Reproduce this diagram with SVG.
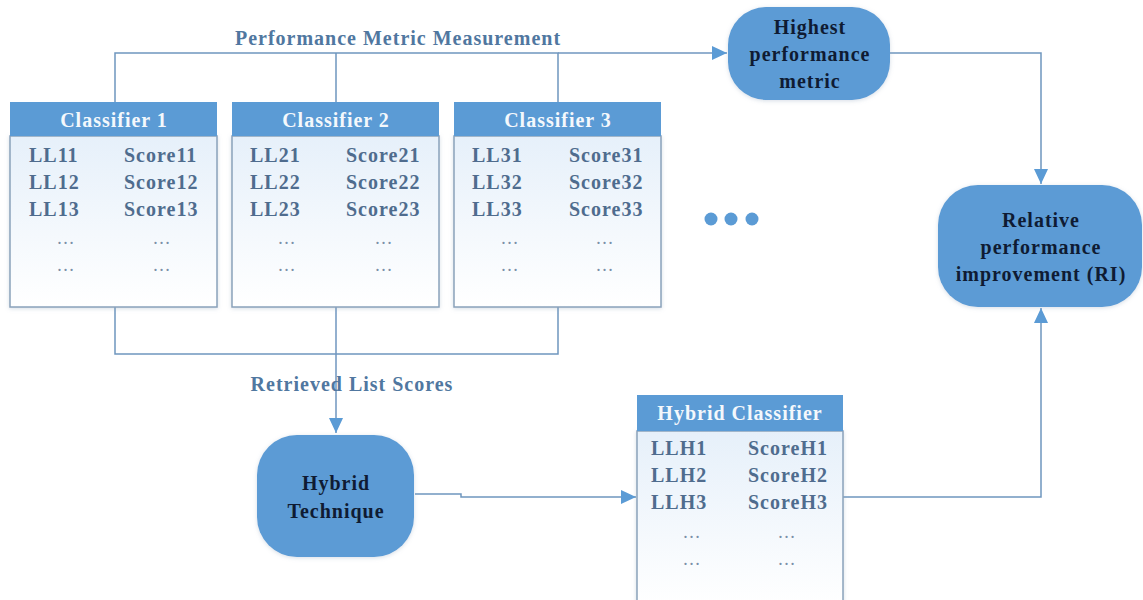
<svg xmlns="http://www.w3.org/2000/svg" width="1143" height="600" viewBox="0 0 1143 600">
<style>
text{font-family:"Liberation Serif","Times New Roman",serif;font-weight:bold;font-size:20px;letter-spacing:1px}
.hdr{fill:#5b9bd5}
.hdrt{fill:#f4f8fc;text-anchor:middle}
.body{fill:url(#bg);stroke:#8aa2bb;stroke-width:1.5}
.row{fill:#4f6c8e}
.dots{fill:#7b90a8;text-anchor:middle;font-weight:normal;font-size:18px}
.node{fill:#5b9bd5}
.nodet{fill:#0f1b33;text-anchor:middle}
.lbl{fill:#5077a0;text-anchor:middle}
.conn{fill:none;stroke:#6f96bf;stroke-width:1.5}
.sh{filter:url(#shadow)}
</style>
<defs>
<linearGradient id="bg" x1="0" y1="0" x2="0" y2="1">
<stop offset="0" stop-color="#e6f0fa"/>
<stop offset="1" stop-color="#ffffff"/>
</linearGradient>
<filter id="shadow" x="-10%" y="-10%" width="120%" height="120%">
<feDropShadow dx="0" dy="1" stdDeviation="2" flood-color="#8aa0b8" flood-opacity="0.35"/>
</filter>
<marker id="arr" markerUnits="userSpaceOnUse" markerWidth="16" markerHeight="14" refX="15" refY="7" orient="auto">
<path d="M0,0 L15,7 L0,14 Z" fill="#5b9bd5"/>
</marker>
</defs>
<rect width="1143" height="600" fill="#ffffff"/>

<g id="connectors">
<text class="lbl" x="398" y="45">Performance Metric Measurement</text>
<path class="conn" d="M115,102 V53 H558 V102 M336,53 V102"/>
<path class="conn" d="M558,53 H727" marker-end="url(#arr)"/>
<path class="conn" d="M890,53 H1041 V184" marker-end="url(#arr)"/>
<path class="conn" d="M115,307 V354 H558 V307"/>
<path class="conn" d="M336,307 V433" marker-end="url(#arr)"/>
<text class="lbl" x="352" y="391">Retrieved List Scores</text>
<path class="conn" d="M415,494 H461 V497 H636" marker-end="url(#arr)"/>
<path class="conn" d="M843,497 H1041 V308" marker-end="url(#arr)"/>
</g>

<g id="classifier1">
<rect class="body sh" x="10" y="136" width="207" height="171"/>
<rect class="hdr" x="10" y="102" width="207" height="34"/>
<text class="hdrt" x="114" y="127">Classifier 1</text>
<text class="row" x="29" y="162">LL11</text><text class="row" x="124" y="162">Score11</text>
<text class="row" x="29" y="189">LL12</text><text class="row" x="124" y="189">Score12</text>
<text class="row" x="29" y="216">LL13</text><text class="row" x="124" y="216">Score13</text>
<text class="dots" x="66" y="244">…</text><text class="dots" x="162" y="244">…</text>
<text class="dots" x="66" y="271">…</text><text class="dots" x="162" y="271">…</text>
</g>

<g id="classifier2">
<rect class="body sh" x="232" y="136" width="207" height="171"/>
<rect class="hdr" x="232" y="102" width="207" height="34"/>
<text class="hdrt" x="336" y="127">Classifier 2</text>
<text class="row" x="250" y="162">LL21</text><text class="row" x="346" y="162">Score21</text>
<text class="row" x="250" y="189">LL22</text><text class="row" x="346" y="189">Score22</text>
<text class="row" x="250" y="216">LL23</text><text class="row" x="346" y="216">Score23</text>
<text class="dots" x="287" y="244">…</text><text class="dots" x="384" y="244">…</text>
<text class="dots" x="287" y="271">…</text><text class="dots" x="384" y="271">…</text>
</g>

<g id="classifier3">
<rect class="body sh" x="454" y="136" width="207" height="171"/>
<rect class="hdr" x="454" y="102" width="207" height="34"/>
<text class="hdrt" x="558" y="127">Classifier 3</text>
<text class="row" x="472" y="162">LL31</text><text class="row" x="569" y="162">Score31</text>
<text class="row" x="472" y="189">LL32</text><text class="row" x="569" y="189">Score32</text>
<text class="row" x="472" y="216">LL33</text><text class="row" x="569" y="216">Score33</text>
<text class="dots" x="510" y="244">…</text><text class="dots" x="605" y="244">…</text>
<text class="dots" x="510" y="271">…</text><text class="dots" x="605" y="271">…</text>
</g>

<g id="ellipsis">
<circle cx="711" cy="219" r="6.5" fill="#5b9bd5"/>
<circle cx="731" cy="219" r="6.5" fill="#5b9bd5"/>
<circle cx="752" cy="219" r="6.5" fill="#5b9bd5"/>
</g>

<g id="highest">
<rect class="node sh" x="728" y="7" width="162" height="93" rx="38" ry="38"/>
<text class="nodet" x="810" y="34">Highest</text>
<text class="nodet" x="810" y="61">performance</text>
<text class="nodet" x="810" y="88">metric</text>
</g>

<g id="relative">
<rect class="node sh" x="938" y="185" width="204" height="122" rx="40" ry="40"/>
<text class="nodet" x="1041" y="227">Relative</text>
<text class="nodet" x="1041" y="254">performance</text>
<text class="nodet" x="1041" y="281">improvement (RI)</text>
</g>

<g id="hybridTechnique">
<rect class="node sh" x="257" y="435" width="157" height="122" rx="40" ry="40"/>
<text class="nodet" x="336" y="490">Hybrid</text>
<text class="nodet" x="336" y="518">Technique</text>
</g>

<g id="hybridClassifier">
<rect class="body sh" x="637" y="431" width="206" height="175"/>
<rect class="hdr" x="637" y="395" width="206" height="36"/>
<text class="hdrt" x="740" y="420">Hybrid Classifier</text>
<text class="row" x="651" y="455">LLH1</text><text class="row" x="748" y="455">ScoreH1</text>
<text class="row" x="651" y="482">LLH2</text><text class="row" x="748" y="482">ScoreH2</text>
<text class="row" x="651" y="509">LLH3</text><text class="row" x="748" y="509">ScoreH3</text>
<text class="dots" x="692" y="538">…</text><text class="dots" x="787" y="538">…</text>
<text class="dots" x="692" y="565">…</text><text class="dots" x="787" y="565">…</text>
</g>
</svg>
